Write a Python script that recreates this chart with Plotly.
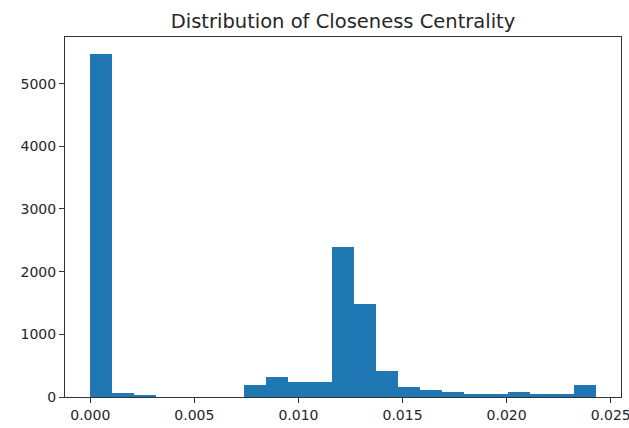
import numpy as np
import plotly.graph_objects as go

# Histogram definition (23 equal bins from 0 to the max closeness value)
bin_min = 0.0
bin_max = 0.02428
n_bins = 23
counts = [5470, 60, 30, 0, 0, 0, 0, 195, 315, 240, 240, 2390, 1480, 420,
          165, 105, 80, 55, 55, 75, 55, 55, 185]
x_ticks = [0.000, 0.005, 0.010, 0.015, 0.020, 0.025]
y_ticks = [0, 1000, 2000, 3000, 4000, 5000]
title = "Distribution of Closeness Centrality"

edges = np.linspace(bin_min, bin_max, n_bins + 1)
centers = (edges[:-1] + edges[1:]) / 2
width = edges[1] - edges[0]

fig = go.Figure(go.Bar(
    x=centers, y=counts, width=width,
    marker=dict(color="#1f77b4", line=dict(width=0)),
))

span = bin_max - bin_min
axis_common = dict(
    showline=True, linecolor="#333333", linewidth=1, mirror=True,
    ticks="outside", ticklen=5, tickcolor="#333333", tickwidth=1,
    showgrid=False, zeroline=False, automargin=False,
    ticklabeloverflow="allow",
    tickfont=dict(family="DejaVu Sans", size=14, color="#262626"),
)
fig.update_layout(
    width=629, height=428,
    margin=dict(l=65, r=8, t=37, b=31),
    paper_bgcolor="white", plot_bgcolor="white",
    title=dict(text=title, x=0.5, xref="paper", xanchor="center",
               y=0.95, yref="container", yanchor="middle",
               font=dict(family="DejaVu Sans", size=19.5, color="#262626")),
    bargap=0, showlegend=False,
    xaxis=dict(range=[bin_min - 0.05 * span, bin_max + 0.05 * span],
               tickvals=x_ticks, tickformat=".3f", **axis_common),
    yaxis=dict(range=[0, 1.05 * max(counts)], tickvals=y_ticks, **axis_common),
)

fig.write_html(
    "out.html",
    config={"displayModeBar": False},
    post_script="document.body.style.margin='0px';document.body.style.overflow='hidden';",
)
